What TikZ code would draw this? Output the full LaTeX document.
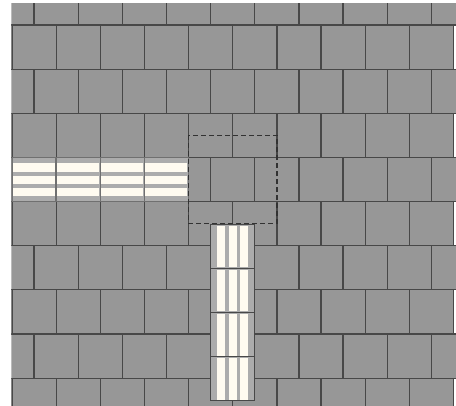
\documentclass[tikz,border=0pt]{standalone}
\definecolor{tilegray}{RGB}{151,151,151}
\definecolor{tileline}{RGB}{72,72,72}
\definecolor{cream}{RGB}{255,251,240}
\definecolor{bandgray}{RGB}{172,172,172}
\definecolor{hline}{RGB}{112,112,112}
\definecolor{dashcol}{RGB}{50,50,50}
\def\T{44.15}
\begin{document}
\begin{tikzpicture}[x=1pt,y=-1pt,
  tile/.style={fill=tilegray,draw=tileline,line width=1.2pt},
  band/.style={fill=bandgray},
  stripe/.style={fill=cream},
  hborder/.style={draw=hline,line width=1.4pt},
  vborder/.style={draw=tileline,line width=1.3pt},
  selbox/.style={draw=dashcol,line width=1.2pt,dash pattern=on 5pt off 3pt}]
\useasboundingbox (0,0) rectangle (456,406);
\fill[white] (0,0) rectangle (456,406);
\begin{scope}
  \clip (11.4,4) rectangle (456,406);
  % offset rows
  \foreach \r in {0,2,4,6,8}
    \foreach \c in {0,...,10}
      \draw[tile] ({-10.15+\c*\T},{25+(\r-1)*\T}) rectangle ++(\T,\T);
  % straight rows
  \foreach \r in {1,3,5,7,9}
    \foreach \c in {0,...,9}
      \draw[tile] ({12+\c*\T},{25+(\r-1)*\T}) rectangle ++(\T,\T);
  % horizontal striped tiles (row 4)
  \foreach \c in {0,...,3} {
    \pgfmathsetmacro{\xx}{12+\c*\T}
    \pgfmathsetmacro{\yy}{25+3*\T}
    \fill[band] (\xx,\yy) rectangle ++(\T,\T);
    \fill[stripe] ({\xx+1},{\yy+5.8}) rectangle ({\xx+\T-1.6},{\yy+14.5});
    \fill[stripe] ({\xx+1},{\yy+18.2}) rectangle ({\xx+\T-1.6},{\yy+26.8});
    \fill[stripe] ({\xx+1},{\yy+30.6}) rectangle ({\xx+\T-1.6},{\yy+38.6});
    \draw[hborder] (\xx,\yy) rectangle ++(\T,\T);
  }
  % vertical striped tiles
  \foreach \k in {0,...,3} {
    \pgfmathsetmacro{\xx}{34+4*\T}
    \pgfmathsetmacro{\yy}{224.2+\k*\T}
    \fill[band] (\xx,\yy) rectangle ++(\T,\T);
    \fill[stripe] ({\xx+6.1},{\yy+1.5}) rectangle ({\xx+14.4},{\yy+\T-1});
    \fill[stripe] ({\xx+18.1},{\yy+1.5}) rectangle ({\xx+26.1},{\yy+\T-1});
    \fill[stripe] ({\xx+29.7},{\yy+1.5}) rectangle ({\xx+37.7},{\yy+\T-1});
    \draw[vborder] (\xx,\yy) rectangle ++(\T,\T);
  }
\end{scope}
% dashed selection square
\draw[selbox] ({12+4*\T},{25+2*\T+22}) rectangle ({12+6*\T},{25+4*\T+22});
\end{tikzpicture}
\end{document}
